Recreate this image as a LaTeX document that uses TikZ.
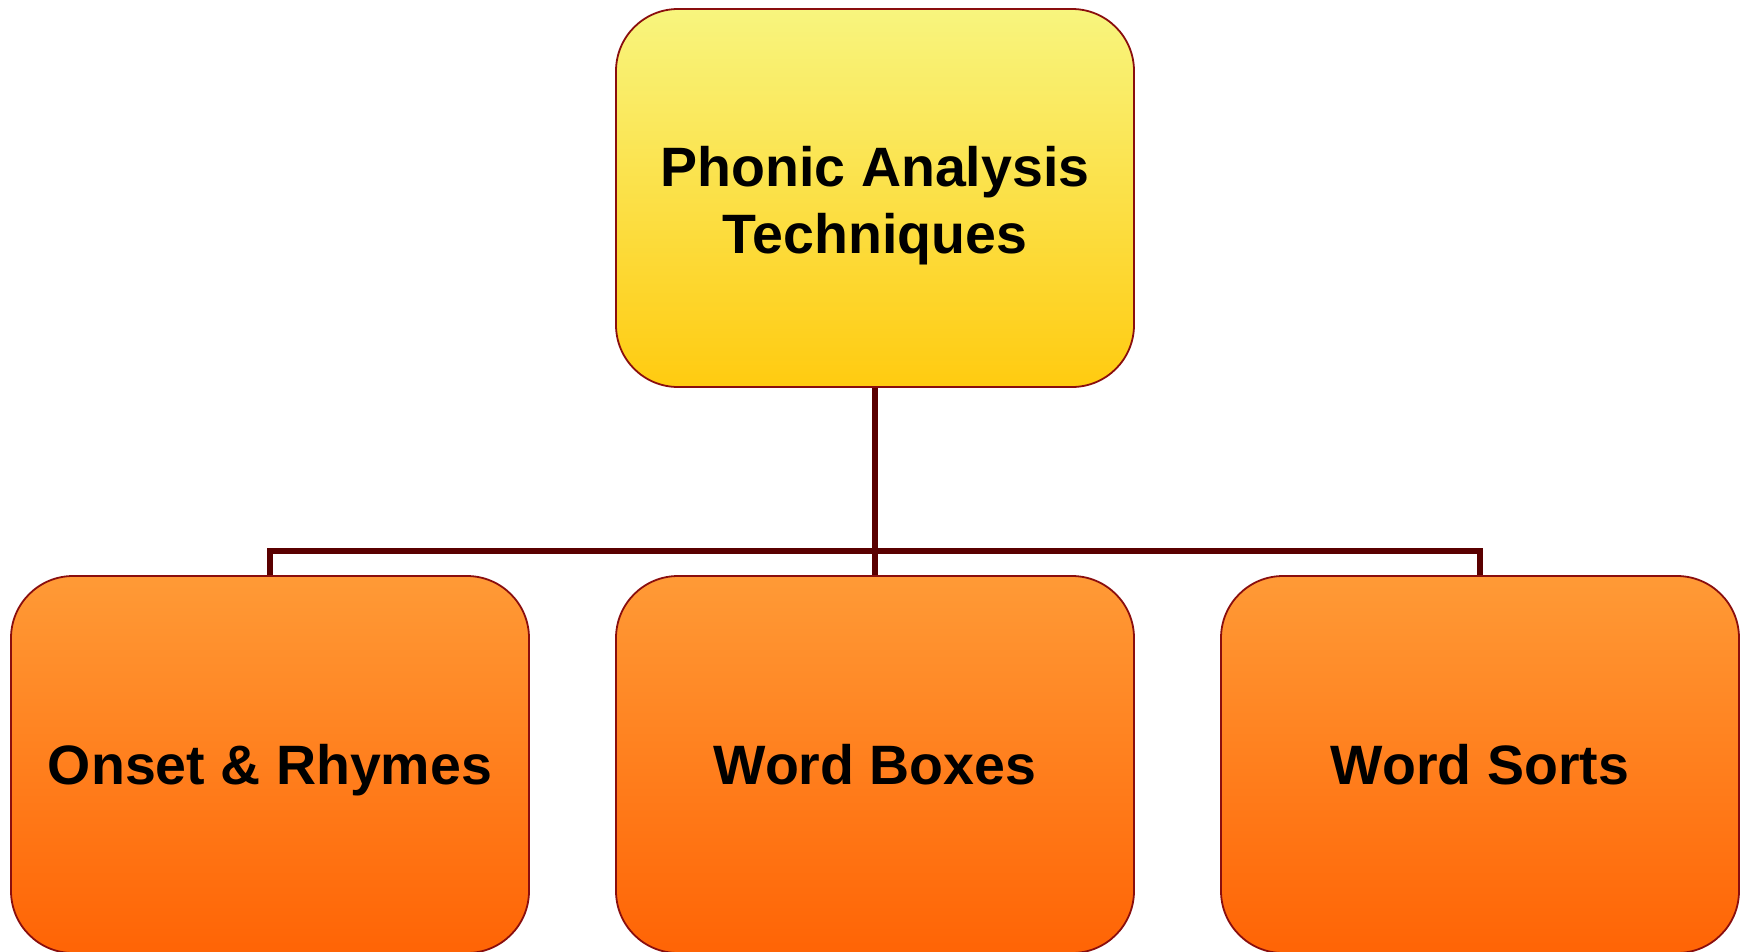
\documentclass[tikz,border=0pt]{standalone}
\usepackage{fontspec}
\setmainfont{Liberation Sans}
\definecolor{edge}{HTML}{8A0E0E}
\definecolor{link}{HTML}{5A0000}
\definecolor{sunTop}{HTML}{F8F57E}
\definecolor{sunBot}{HTML}{FFCB10}
\definecolor{ambTop}{HTML}{FF9A36}
\definecolor{ambBot}{HTML}{FF6405}
\tikzset{
  cardfont/.style={font=\bfseries\fontsize{55.5}{67}\selectfont},
  card/.style={draw=edge, line width=1.8pt, rounded corners=62pt,
    minimum width=518pt, inner sep=0pt, align=center, cardfont},
  headcard/.style={card, minimum height=378pt, top color=sunTop, bottom color=sunBot},
  leafcard/.style={card, minimum height=377pt, top color=ambTop, bottom color=ambBot,
    text height=39.7pt, text depth=0pt},
  cardtext/.style={inner sep=0pt, align=center, cardfont},
  conn/.style={draw=link, line width=6.2pt, line join=miter}
}
\begin{document}
\begin{tikzpicture}[x=1pt,y=-1pt]
\useasboundingbox (0,0) rectangle (1747,951);
% root box and its two-line title
\node[headcard] (head) at (875,198) {};
\node[cardtext, anchor=north] (headtext) at (875,146.5) {Phonic Analysis\\Techniques};
% the three technique boxes
\node[leafcard] (onset) at (270,764.5) {Onset \& Rhymes};
\node[leafcard] (boxes) at (875,764.5) {Word Boxes};
\node[leafcard] (sorts) at (1480,764.5) {Word Sorts};
% tree connector
\coordinate (bar) at (875,551);
\draw[conn] (head.south) -- (boxes.north);
\draw[conn] (onset.north) |- (bar) -| (sorts.north);
\end{tikzpicture}
\end{document}
